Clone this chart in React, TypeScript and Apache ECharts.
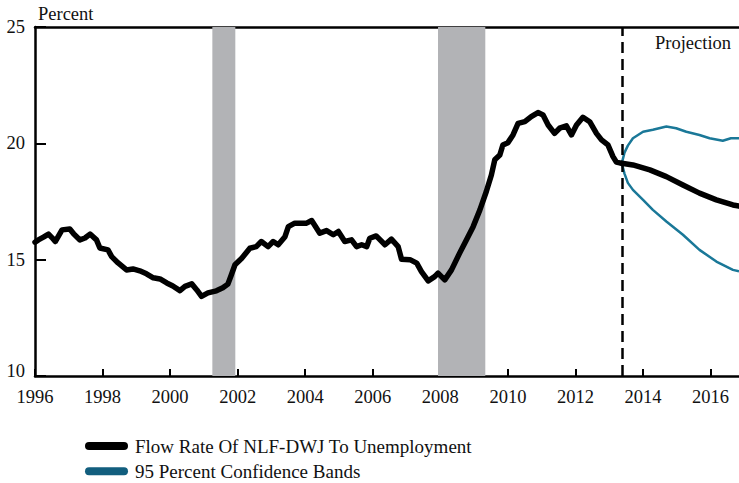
import React, { useEffect, useRef } from "react";
import * as echarts from "echarts";

const FONT = "Liberation Serif";

const xTickYears = [1996, 1998, 2000, 2002, 2004, 2006, 2008, 2010, 2012, 2014, 2016];
const yTicks = [10, 15, 20, 25];

const flowActual: [number, number][] = [
  [1996.0, 15.75], [1996.1, 15.85], [1996.25, 15.97], [1996.4, 16.1], [1996.5, 15.95],
  [1996.6, 15.78], [1996.8, 16.28], [1997.03, 16.32], [1997.15, 16.1], [1997.33, 15.85],
  [1997.48, 15.93], [1997.63, 16.1], [1997.82, 15.85], [1997.92, 15.5], [1998.16, 15.42],
  [1998.27, 15.13], [1998.46, 14.86], [1998.71, 14.56], [1998.9, 14.6], [1999.1, 14.52],
  [1999.3, 14.39], [1999.5, 14.22], [1999.7, 14.17], [1999.9, 14.0], [2000.08, 13.87],
  [2000.29, 13.67], [2000.44, 13.85], [2000.64, 13.96], [2000.79, 13.7], [2000.93, 13.42],
  [2001.12, 13.57], [2001.37, 13.66], [2001.56, 13.79], [2001.71, 13.95], [2001.8, 14.3],
  [2001.92, 14.78], [2002.12, 15.06], [2002.36, 15.49], [2002.55, 15.56], [2002.7, 15.78],
  [2002.9, 15.56], [2003.05, 15.78], [2003.2, 15.64], [2003.4, 15.99], [2003.5, 16.42],
  [2003.69, 16.57], [2004.04, 16.57], [2004.19, 16.68], [2004.43, 16.14], [2004.63, 16.25],
  [2004.83, 16.07], [2004.98, 16.21], [2005.17, 15.78], [2005.37, 15.85], [2005.52, 15.56],
  [2005.67, 15.64], [2005.82, 15.56], [2005.91, 15.92], [2006.1, 16.02], [2006.36, 15.64],
  [2006.55, 15.88], [2006.75, 15.56], [2006.85, 15.02], [2007.1, 15.0], [2007.3, 14.85],
  [2007.44, 14.49], [2007.64, 14.09], [2007.83, 14.27], [2007.93, 14.42], [2008.13, 14.13],
  [2008.33, 14.56], [2008.57, 15.28], [2008.77, 15.85], [2008.97, 16.42], [2009.17, 17.14],
  [2009.36, 17.93], [2009.51, 18.64], [2009.61, 19.29], [2009.76, 19.5], [2009.85, 19.93],
  [2010.0, 20.03], [2010.15, 20.36], [2010.3, 20.86], [2010.5, 20.93], [2010.69, 21.15],
  [2010.89, 21.32], [2011.04, 21.22], [2011.19, 20.79], [2011.38, 20.43], [2011.53, 20.65],
  [2011.73, 20.75], [2011.88, 20.36], [2012.03, 20.79], [2012.22, 21.12], [2012.42, 20.93],
  [2012.62, 20.43], [2012.77, 20.15], [2012.96, 19.93], [2013.11, 19.43], [2013.21, 19.19],
  [2013.37, 19.14],
];

const flowProjection: [number, number][] = [
  [2013.37, 19.14], [2013.7, 19.07], [2014.2, 18.86], [2014.69, 18.57], [2015.18, 18.21],
  [2015.67, 17.86], [2016.17, 17.57], [2016.66, 17.35], [2016.84, 17.3],
];

const bandUpper: [number, number][] = [
  [2013.37, 19.14], [2013.45, 19.6], [2013.55, 19.9], [2013.7, 20.22], [2014.0, 20.5],
  [2014.29, 20.58], [2014.69, 20.72], [2014.98, 20.65], [2015.28, 20.5], [2015.67, 20.36],
  [2015.97, 20.22], [2016.36, 20.11], [2016.6, 20.22], [2016.84, 20.22],
];

const bandLower: [number, number][] = [
  [2013.37, 19.14], [2013.45, 18.7], [2013.55, 18.3], [2013.7, 18.0], [2014.0, 17.57],
  [2014.29, 17.14], [2014.69, 16.64], [2015.18, 16.07], [2015.67, 15.42], [2016.17, 14.92],
  [2016.66, 14.56], [2016.84, 14.5],
];

const recessions: [number, number][] = [
  [2001.25, 2001.93],
  [2007.93, 2009.33],
];

const projectionStart = 2013.37;

const SERIES_FLOW = "Flow Rate Of NLF-DWJ To Unemployment";
const SERIES_BAND = "95 Percent Confidence Bands";

const PILL = "path://M4,0 L39,0 A4,4 0 0 1 39,8 L4,8 A4,4 0 0 1 4,0 Z";

export default function App() {
  const ref = useRef<HTMLDivElement>(null);

  useEffect(() => {
    if (!ref.current) return;
    const chart = echarts.init(ref.current, null, { renderer: "svg" });
    const blue = "#1a7898";
    chart.setOption({
      animation: false,
      backgroundColor: "#ffffff",
      textStyle: { fontFamily: FONT },
      grid: { left: 35, right: 0, top: 27, bottom: 107, containLabel: false },
      legend: {
        orient: "vertical",
        left: 85,
        top: 436,
        height: 47,
        padding: 0,
        itemWidth: 43,
        itemHeight: 8,
        itemGap: 5.3,
        icon: PILL,
        textStyle: { fontFamily: FONT, fontSize: 19, color: "#111", lineHeight: 20, padding: [0, 0, 0, 2] },
        data: [
          { name: SERIES_FLOW, itemStyle: { color: "#000" } },
          { name: SERIES_BAND, itemStyle: { color: "#125e7e" } },
        ],
      },
      xAxis: [
        {
          type: "value",
          min: 1996,
          max: 2016.84,
          interval: 2,
          axisLine: { show: true, onZero: false, lineStyle: { color: "#000", width: 2.5 } },
          axisTick: { show: true, inside: true, length: 7, lineStyle: { color: "#000", width: 2 } },
          axisLabel: {
            margin: 11,
            fontFamily: FONT,
            fontSize: 18.5,
            color: "#111",
            showMaxLabel: false,
            formatter: (v: number) => (xTickYears.includes(Math.round(v)) && Math.abs(v - Math.round(v)) < 1e-6 ? String(Math.round(v)) : ""),
          },
          splitLine: { show: false },
        },
        {
          type: "value",
          position: "top",
          min: 1996,
          max: 2016.84,
          axisLine: { show: true, onZero: false, lineStyle: { color: "#000", width: 2.5 } },
          axisTick: { show: false },
          axisLabel: { show: false },
          splitLine: { show: false },
        },
      ],
      yAxis: {
        type: "value",
        min: 10,
        max: 25,
        interval: 5,
        axisLine: { show: true, onZero: false, lineStyle: { color: "#000", width: 2.5 } },
        axisTick: { show: true, inside: true, length: 11, lineStyle: { color: "#000", width: 2 } },
        axisLabel: {
          margin: 10,
          fontFamily: FONT,
          fontSize: 18.5,
          color: "#111",
          formatter: (v: number) => (yTicks.includes(v) ? (v === 10 ? "{low|10}" : String(v)) : ""),
          rich: {
            low: { fontFamily: FONT, fontSize: 18.5, color: "#111", padding: [0, 0, 10, 0] },
          },
        },
        splitLine: { show: false },
      },
      graphic: [
        {
          type: "text",
          left: 38,
          top: 4,
          style: { text: "Percent", fontFamily: FONT, fontSize: 18.5, fill: "#111" },
        },
        {
          type: "text",
          left: 655,
          top: 33,
          style: { text: "Projection", fontFamily: FONT, fontSize: 18.5, fill: "#111" },
        },
      ],
      series: [
        {
          name: "recessions",
          type: "line",
          data: [],
          z: 1,
          silent: true,
          markArea: {
            silent: true,
            itemStyle: { color: "#b2b3b6" },
            data: recessions.map(([a, b]) => [{ xAxis: a }, { xAxis: b }]),
          },
          markLine: {
            silent: true,
            symbol: ["none", "none"],
            label: { show: false },
            lineStyle: { color: "#000", width: 2.5, type: [11, 6] },
            data: [{ xAxis: projectionStart }],
          },
        },
        {
          name: SERIES_BAND,
          type: "line",
          data: bandUpper,
          showSymbol: false,
          z: 3,
          lineStyle: { color: blue, width: 2.5 },
          itemStyle: { color: blue },
        },
        {
          name: SERIES_BAND,
          type: "line",
          data: bandLower,
          showSymbol: false,
          z: 3,
          lineStyle: { color: blue, width: 2.5 },
          itemStyle: { color: blue },
        },
        {
          name: SERIES_FLOW,
          type: "line",
          data: flowActual,
          showSymbol: false,
          z: 4,
          lineStyle: { color: "#000", width: 5.5, join: "round", cap: "round" },
          itemStyle: { color: "#000" },
        },
        {
          name: SERIES_FLOW,
          type: "line",
          data: flowProjection,
          showSymbol: false,
          z: 4,
          lineStyle: { color: "#000", width: 5.5, join: "round", cap: "round" },
          itemStyle: { color: "#000" },
        },
      ],
    });
    return () => chart.dispose();
  }, []);

  return (
    <div
      ref={ref}
      style={{ position: "fixed", left: 0, top: 0, width: 739, height: 483, background: "#fff" }}
    />
  );
}
